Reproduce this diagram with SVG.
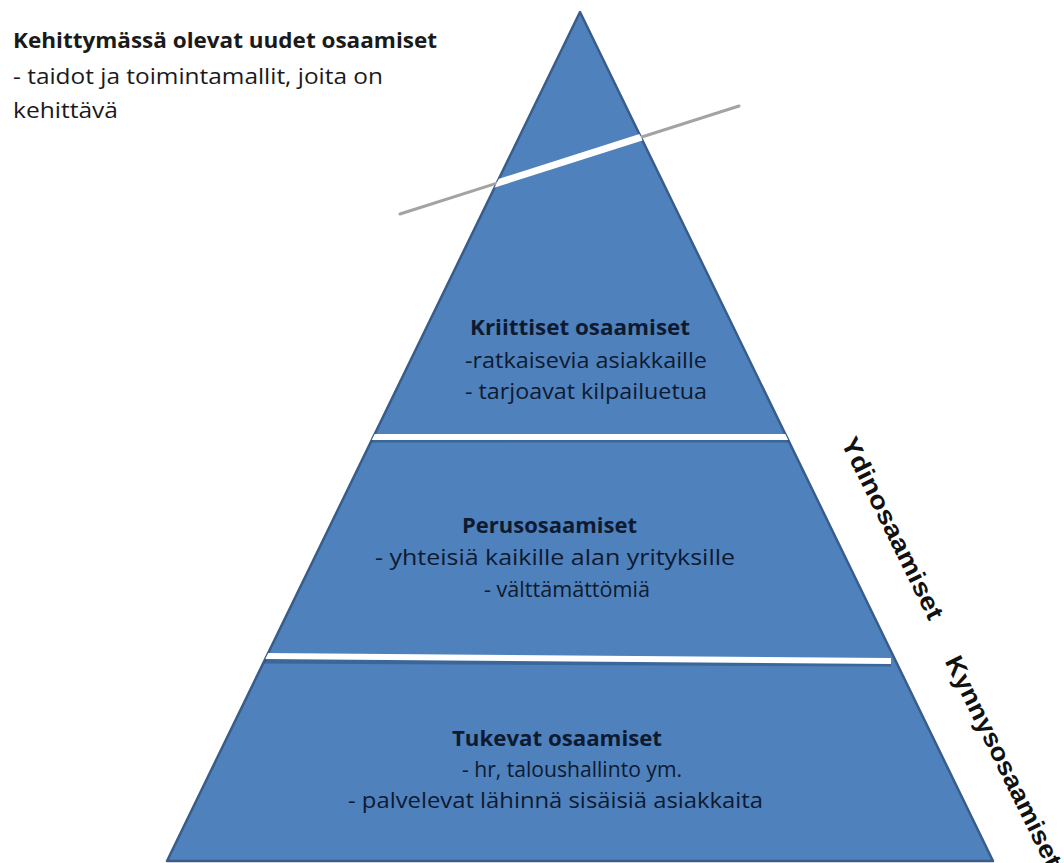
<svg xmlns="http://www.w3.org/2000/svg" width="1064" height="863" viewBox="0 0 1064 863">
  <defs>
    <clipPath id="tri">
      <polygon points="580,12 167,861 993,861"/>
    </clipPath>
    <style>
      .t { font-family: "Open Sans", "Liberation Sans", sans-serif; font-size: 22px; fill: #0e1a30; }
      .b { font-weight: bold; }
      .tl { font-family: "Open Sans", "Liberation Sans", sans-serif; font-size: 22px; fill: #1a1a1a; }
      .side { font-family: "Liberation Sans", Arial, sans-serif; font-size: 25px; font-weight: bold; fill: #111; }
      .sep-shadow { stroke: #2c507c; stroke-width: 7; opacity: 0.55; }
      .sep { stroke: #ffffff; stroke-width: 6; }
    </style>
  </defs>
  <rect width="1064" height="863" fill="#ffffff"/>

  <g id="pyramid">
    <polygon points="580,12 167,861 993,861" fill="#4f81bd" stroke="#385d8a" stroke-width="2.5" stroke-linejoin="round"/>
  </g>

  <g id="connectors">
    <line x1="400" y1="214" x2="739" y2="106" stroke="#a3a3a3" stroke-width="3" stroke-linecap="round"/>
    <g clip-path="url(#tri)">
      <line x1="400" y1="214" x2="739" y2="106" stroke="#ffffff" stroke-width="7"/>
      <line class="sep-shadow" x1="360" y1="439" x2="800" y2="439"/>
      <line class="sep" x1="360" y1="437" x2="800" y2="437"/>
      <line class="sep-shadow" x1="264" y1="660" x2="891" y2="663"/>
      <line class="sep" x1="264" y1="656" x2="891" y2="661"/>
    </g>
  </g>

  <g id="node-emerging">
    <text class="tl b" x="13" y="48" textLength="424" lengthAdjust="spacingAndGlyphs">Kehittymässä olevat uudet osaamiset</text>
    <text class="tl" x="13" y="84" textLength="370" lengthAdjust="spacingAndGlyphs">- taidot ja toimintamallit, joita on</text>
    <text class="tl" x="13" y="118" textLength="105" lengthAdjust="spacingAndGlyphs">kehittävä</text>
  </g>

  <g id="node-critical">
    <text class="t b" x="470" y="335" textLength="220" lengthAdjust="spacingAndGlyphs">Kriittiset osaamiset</text>
    <text class="t" x="465" y="368" textLength="242" lengthAdjust="spacingAndGlyphs">-ratkaisevia asiakkaille</text>
    <text class="t" x="465" y="399" textLength="242" lengthAdjust="spacingAndGlyphs">- tarjoavat kilpailuetua</text>
  </g>

  <g id="node-basic">
    <text class="t b" x="462" y="533" textLength="175" lengthAdjust="spacingAndGlyphs">Perusosaamiset</text>
    <text class="t" x="375" y="565" textLength="360" lengthAdjust="spacingAndGlyphs">- yhteisiä kaikille alan yrityksille</text>
    <text class="t" x="484" y="597" textLength="166" lengthAdjust="spacingAndGlyphs">- välttämättömiä</text>
  </g>

  <g id="node-supporting">
    <text class="t b" x="452" y="746" textLength="210" lengthAdjust="spacingAndGlyphs">Tukevat osaamiset</text>
    <text class="t" x="462" y="777" textLength="220" lengthAdjust="spacingAndGlyphs">- hr, taloushallinto ym.</text>
    <text class="t" x="348" y="808" textLength="415" lengthAdjust="spacingAndGlyphs">- palvelevat lähinnä sisäisiä asiakkaita</text>
  </g>

  <g id="label-core">
    <text class="side" transform="translate(893,528) rotate(63.7)" x="0" y="9" text-anchor="middle" textLength="200" lengthAdjust="spacingAndGlyphs">Ydinosaamiset</text>
  </g>
  <g id="label-threshold">
    <text class="side" transform="translate(1004,761) rotate(63.7)" x="0" y="9" text-anchor="middle" textLength="232" lengthAdjust="spacingAndGlyphs">Kynnysosaamiset</text>
  </g>
</svg>
